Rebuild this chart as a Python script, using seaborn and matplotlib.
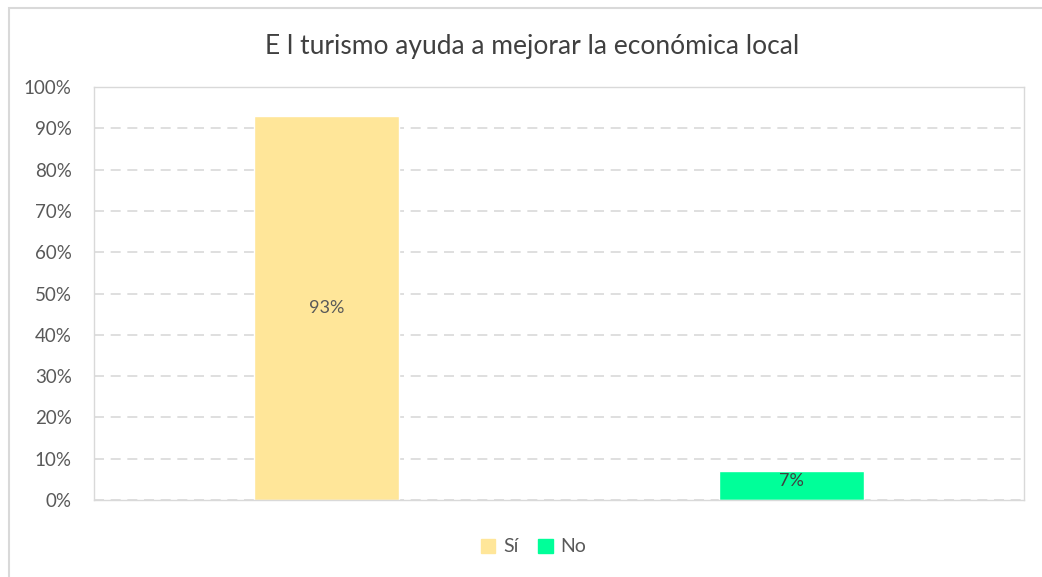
import matplotlib.pyplot as plt
import matplotlib.patches as mpatches
import pandas as pd
import seaborn as sns
from matplotlib.ticker import PercentFormatter

# Data
categories = ['Sí', 'No']
values = [0.93, 0.07]
colors = ['#FFE699', '#00FF99']
title = 'E l turismo ayuda a mejorar la económica local'

df = pd.DataFrame({'respuesta': categories, 'valor': values})

sns.set_style('white')
plt.rcParams['font.family'] = ['Lato', 'DejaVu Sans']

fig = plt.figure(figsize=(10.42, 5.77), dpi=100)
ax = fig.add_axes([0.0902, 0.1334, 0.8925, 0.7158])

sns.barplot(data=df, x='respuesta', y='valor', hue='respuesta',
            palette=colors, width=0.31, ax=ax, legend=False, saturation=1)

ax.set_ylim(0, 1)
ax.set_xlim(-0.5, 1.5)
ax.set_yticks([i / 10 for i in range(11)])
ax.yaxis.set_major_formatter(PercentFormatter(1.0, decimals=0))
ax.tick_params(axis='y', labelsize=13.5, colors='#595959', length=0, pad=16)
ax.set_xticks([])
ax.set_xlabel('')
ax.set_ylabel('')

ax.yaxis.grid(True, color='#D9D9D9', linestyle=(0, (6, 4)), linewidth=1.2)
ax.set_axisbelow(True)
for s in ax.spines.values():
    s.set_color('#D9D9D9')
    s.set_linewidth(1)

# data labels
ax.text(0, values[0] / 2, '93%', ha='center', va='center', fontsize=13, color='#595959')
ax.text(1, values[1] - 0.004, '7%', ha='center', va='top', fontsize=13, color='#404040')

fig.text(0.511, 0.92, title, ha='center', va='center', fontsize=19, color='#404040')

handles = [mpatches.Patch(color=c, label=l) for c, l in zip(colors, categories)]
fig.legend(handles=handles, loc='center', bbox_to_anchor=(0.512, 0.052), ncol=2,
           frameon=False, fontsize=14, labelcolor='#595959', handlelength=0.75,
           handleheight=0.75, handletextpad=0.4, columnspacing=1.0)

# outer chart border
fig.add_artist(mpatches.Rectangle((0.0086, -0.01), 1.0, 0.9962, transform=fig.transFigure,
                                  fill=False, edgecolor='#D9D9D9', linewidth=1.5))

fig.savefig('out.png', dpi=100)
